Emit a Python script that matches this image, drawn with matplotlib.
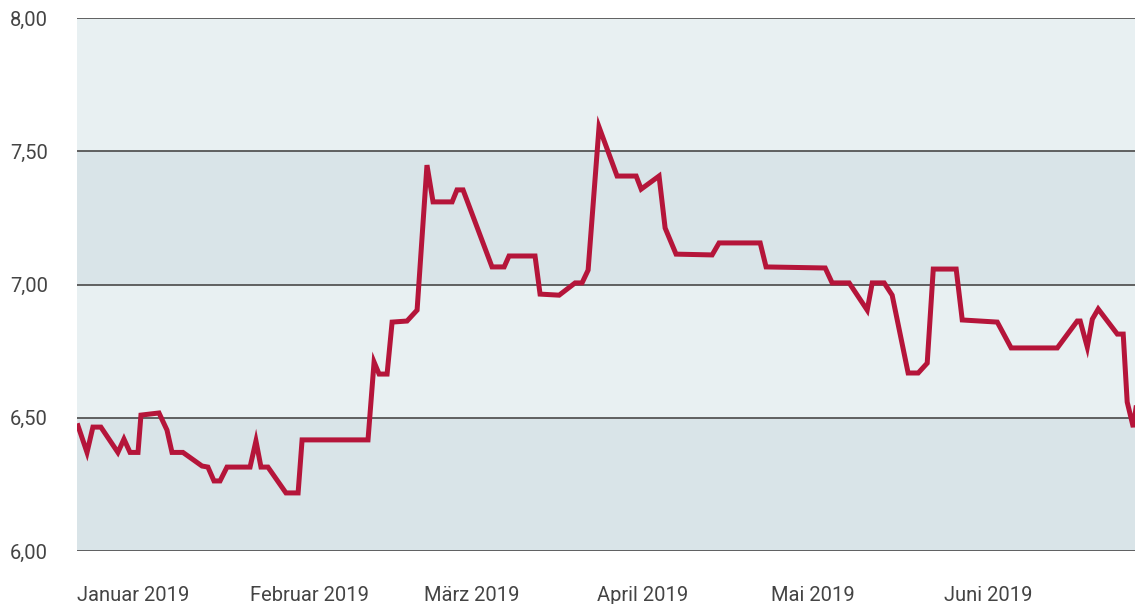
import matplotlib
matplotlib.use('Agg')
import matplotlib.pyplot as plt

# x in months since 1 Jan 2019 (months drawn with equal width)
months = [0.006, 0.058, 0.092, 0.138, 0.236, 0.271, 0.306, 0.352, 0.369, 0.473,
          0.519, 0.548, 0.611, 0.721, 0.755, 0.790, 0.825, 0.865, 0.998, 1.032,
          1.061, 1.101, 1.205, 1.275, 1.298, 1.678, 1.713, 1.742, 1.788, 1.817,
          1.903, 1.961, 2.018, 2.053, 2.163, 2.191, 2.226, 2.393, 2.463, 2.491,
          2.641, 2.670, 2.780, 2.872, 2.912, 2.947, 3.010, 3.114, 3.224, 3.253,
          3.356, 3.391, 3.454, 3.662, 3.702, 3.939, 3.973, 4.314, 4.354, 4.452,
          4.556, 4.585, 4.654, 4.700, 4.792, 4.850, 4.902, 4.937, 5.069, 5.104,
          5.306, 5.386, 5.652, 5.767, 5.784, 5.825, 5.854, 5.888, 5.998, 6.032,
          6.055, 6.090, 6.113]
values = [6.47, 6.37, 6.465, 6.465, 6.37, 6.42, 6.37, 6.37, 6.51, 6.518,
          6.454, 6.37, 6.37, 6.319, 6.315, 6.263, 6.263, 6.315, 6.315, 6.413,
          6.315, 6.315, 6.218, 6.218, 6.417, 6.417, 6.709, 6.664, 6.664, 6.859,
          6.863, 6.904, 7.448, 7.31, 7.31, 7.355, 7.355, 7.066, 7.066, 7.107,
          7.107, 6.964, 6.96, 7.006, 7.006, 7.054, 7.591, 7.407, 7.407, 7.358,
          7.407, 7.212, 7.114, 7.111, 7.156, 7.156, 7.066, 7.062, 7.006, 7.006,
          6.904, 7.006, 7.006, 6.96, 6.668, 6.668, 6.705, 7.058, 7.058, 6.867,
          6.859, 6.762, 6.762, 6.863, 6.863, 6.765, 6.87, 6.908, 6.814, 6.814,
          6.559, 6.465, 6.57]

month_labels = ['Januar 2019', 'Februar 2019', 'März 2019', 'April 2019',
                'Mai 2019', 'Juni 2019']
y_ticks = [6.0, 6.5, 7.0, 7.5, 8.0]
y_labels = ['6,00', '6,50', '7,00', '7,50', '8,00']

band_dark = '#d9e4e8'
band_light = '#e8f0f2'

fig = plt.figure(figsize=(11.35, 6.04), dpi=100)
ax = fig.add_axes([0.0678, 0.0877, 0.9322, 0.8825])

for i in range(len(y_ticks) - 1):
    ax.axhspan(y_ticks[i], y_ticks[i + 1], color=band_dark if i % 2 == 0 else band_light,
               lw=0, zorder=0)
for y in y_ticks:
    ax.axhline(y, color='#555555', lw=1.3, zorder=1)

ax.plot(months, values, color='#b5153a', lw=3.6, solid_joinstyle='miter', zorder=3)

ax.set_xlim(0, 6.10)
ax.set_ylim(6.0, 8.0)
ax.set_xticks(range(len(month_labels)))
ax.set_xticklabels(month_labels, ha='left')
ax.set_yticks(y_ticks)
ax.set_yticklabels(y_labels)
ax.tick_params(length=0, labelsize=14.5, labelcolor='#444444')
ax.tick_params(axis='x', pad=25)
ax.tick_params(axis='y', pad=21)
for lab in ax.get_xticklabels() + ax.get_yticklabels():
    lab.set_family('Roboto')
for s in ax.spines.values():
    s.set_visible(False)

fig.savefig('out.png', dpi=100)
